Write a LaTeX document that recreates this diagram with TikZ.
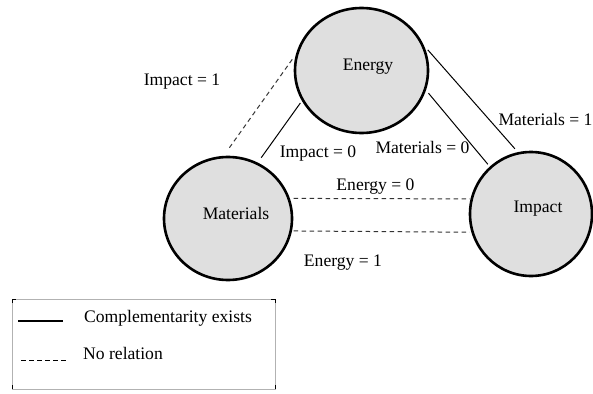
\documentclass[tikz,border=0pt]{standalone}
\usepackage{fontspec}
\setmainfont{Liberation Serif}
\usetikzlibrary{shapes.geometric}
\begin{document}
\begin{tikzpicture}[x=1pt,y=-1pt,
  every node/.style={font=\fontsize{17.6}{20}\selectfont},
  bubble/.style={ellipse, draw=black, line width=2.6pt, fill=gray!25, inner sep=0pt},
  link/.style={draw=black, line width=1pt},
  norel/.style={draw=black!80, line width=1pt, dash pattern=on 4.5pt off 3.5pt},
  lbl/.style={inner sep=0pt},
  legendbox/.style={draw=gray!60, line width=0.6pt},
  corner/.style={draw=black, line width=0.9pt}]
\useasboundingbox[fill=white] (0,0) rectangle (593,393);

% nodes
\node[bubble, minimum width=133pt, minimum height=125pt,
      label={[lbl, xshift=6.5pt, yshift=4pt]center:Energy}] (energy) at (361.5,70.5) {};
\node[bubble, minimum width=128pt, minimum height=123pt,
      label={[lbl, xshift=8pt, yshift=5pt]center:Materials}] (materials) at (228,218.5) {};
\node[bubble, minimum width=122pt, minimum height=124pt,
      label={[lbl, xshift=7pt, yshift=5pt]center:Impact}] (impact) at (531,214) {};

% connectors
\draw[link, shorten <=6pt, shorten >=4.5pt] (energy.22.5) -- (impact.102.2);
\draw[link, shorten <=3.8pt, shorten >=3pt] (energy.-17.9) -- (impact.131.9);
\draw[link, shorten <=2.6pt, shorten >=6pt] (energy.207.5) -- (materials.62.9);
\draw[norel, shorten <=6.4pt, shorten >=10pt] (energy.166.1) -- (materials.94.8);
\draw[norel, shorten <=3.8pt, shorten >=0.5pt] (materials.18.6) -- (impact.166.9);
\draw[norel, shorten <=1.5pt, shorten >=1.8pt] (materials.-11.9) -- (impact.197.6);

% labels
\node[lbl] (limp1) at (182,82) {Impact = 1};
\node[lbl] (limp0) at (318,154) {Impact = 0};
\node[lbl] (lmat0) at (422.5,147) {Materials = 0};
\node[lbl] (lmat1) at (545.5,119) {Materials = 1};
\node[lbl] (lene0) at (375.5,187) {Energy = 0};
\node[lbl] (lene1) at (343,263) {Energy = 1};

% legend
\draw[legendbox] (12,299) rectangle (275,389);
\draw[corner] (12,303) -- (12,299) -- (16,299);
\draw[corner] (271,299) -- (275,299) -- (275,303);
\draw[corner] (12,385) -- (12,389);
\draw[corner] (275,385) -- (275,389);
\coordinate (sa) at (18,321);
\coordinate (sb) at (63,321);
\coordinate (da) at (21,360);
\coordinate (db) at (68,360);
\draw[draw=black, line width=1.8pt] (sa) -- (sb);
\draw[draw=black, line width=0.9pt, dash pattern=on 5pt off 3pt] (da) -- (db);
\node[lbl] (lgs) at (168,318) {Complementarity exists};
\node[lbl] (lgd) at (123,353) {No relation};
\end{tikzpicture}
\end{document}
